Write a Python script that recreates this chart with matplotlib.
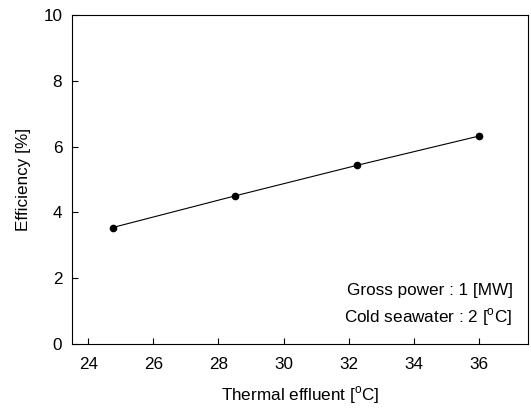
import matplotlib
matplotlib.use("Agg")
import matplotlib.pyplot as plt

plt.rcParams['font.family'] = ['Liberation Sans', 'DejaVu Sans']
plt.rcParams['mathtext.fontset'] = 'custom'
plt.rcParams['mathtext.rm'] = 'Liberation Sans'

effluent = [24.75, 28.5, 32.25, 36.0]
efficiency = [3.54, 4.50, 5.43, 6.32]
xticks = [24, 26, 28, 30, 32, 34, 36]
yticks = [0, 2, 4, 6, 8, 10]

fs = 12.3
fig = plt.figure(figsize=(5.31, 4.08), dpi=100)
ax = fig.add_axes([0.1356, 0.157, 0.858, 0.806])
ax.plot(effluent, efficiency, color='black', lw=0.8, marker='o', ms=4.5)
ax.set_xlim(23.5, 37.5)
ax.set_ylim(0, 10)
ax.set_xticks(xticks)
ax.set_yticks(yticks)
ax.tick_params(direction='in', length=4, width=0.8, labelsize=fs, colors='black')
ax.tick_params(axis='x', pad=9.5)
ax.tick_params(axis='y', pad=7)
for s in ax.spines.values():
    s.set_linewidth(0.8)
ax.set_xlabel('Thermal effluent [$^\\mathrm{o}$C]', fontsize=fs, labelpad=9)
ax.set_ylabel('Efficiency [%]', fontsize=fs, labelpad=9)
ax.text(0.967, 0.164, 'Gross power : 1 [MW]', transform=ax.transAxes, ha='right', va='center', fontsize=fs)
ax.text(0.967, 0.08, 'Cold seawater : 2 [$^\\mathrm{o}$C]', transform=ax.transAxes, ha='right', va='center', fontsize=fs)
fig.savefig('out.png', dpi=100)
